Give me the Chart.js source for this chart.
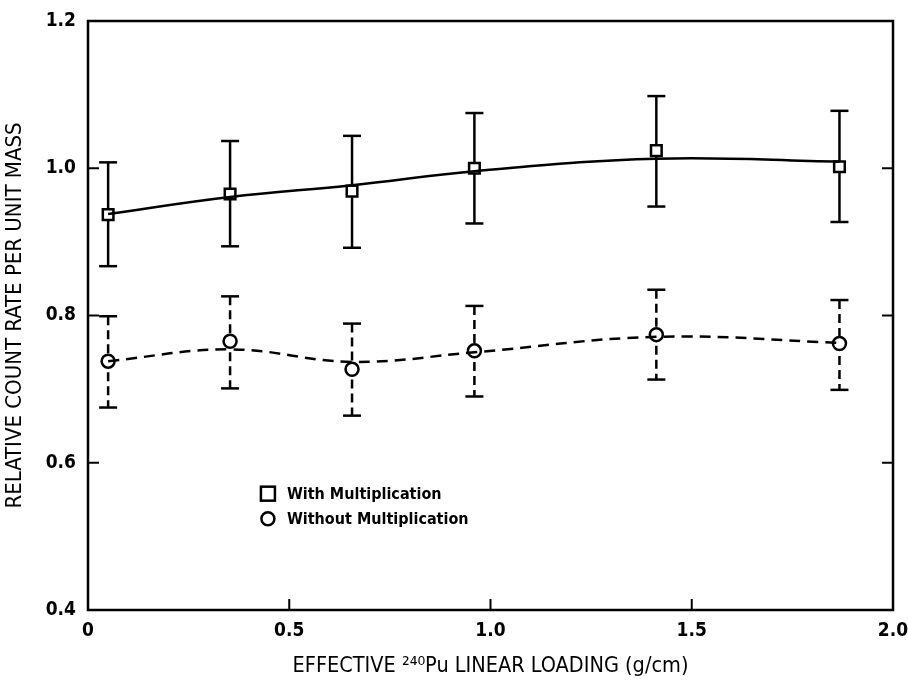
<!DOCTYPE html>
<html>
<head>
<meta charset="utf-8">
<script src="https://cdn.jsdelivr.net/npm/chart.js@4.4.1/dist/chart.umd.min.js"></script>
<style>
  html, body { margin: 0; padding: 0; background: #ffffff; }
  #wrap { width: 908px; height: 686px; }
</style>
</head>
<body>
<div id="wrap"><canvas id="c" width="908" height="686"></canvas></div>
<script>
// ---- data ----
const loading = [0.05, 0.353, 0.656, 0.96, 1.412, 1.867];

const withMult     = [0.937, 0.965, 0.969, 1.000, 1.024, 1.002];
const withMultHi   = [1.008, 1.037, 1.044, 1.075, 1.098, 1.078];
const withMultLo   = [0.867, 0.894, 0.892, 0.925, 0.948, 0.927];
const withMultFit  = [0.938, 0.961, 0.977, 0.996, 1.013, 1.009];

const withoutMult    = [0.738, 0.765, 0.727, 0.752, 0.774, 0.762];
const withoutMultHi  = [0.799, 0.826, 0.789, 0.813, 0.835, 0.821];
const withoutMultLo  = [0.675, 0.701, 0.664, 0.690, 0.713, 0.699];
const withoutMultFit = [0.738, 0.754, 0.737, 0.750, 0.771, 0.763];

const xTicks = [0, 0.5, 1.0, 1.5, 2.0];
const yTicks = [0.4, 0.6, 0.8, 1.0, 1.2];
const legendLabels = ['With Multiplication', 'Without Multiplication'];
const xTitle = 'EFFECTIVE \u00B2\u2074\u2070Pu LINEAR LOADING (g/cm)';
const yTitle = 'RELATIVE COUNT RATE PER UNIT MASS';

const FONT = "'Liberation Sans Narrow', 'DejaVu Sans Condensed', 'Arial Narrow', sans-serif";

function pts(ys) { return loading.map((x, i) => ({ x: x, y: ys[i] })); }

// ---- plugin: frame, inward ticks, error bars, legend ----
const decor = {
  id: 'decor',
  beforeDatasetsDraw(chart) {
    const ctx = chart.ctx;
    const xs = chart.scales.x, ys = chart.scales.y;
    const a = chart.chartArea;
    ctx.save();
    ctx.strokeStyle = '#000';
    ctx.lineWidth = 2.5;
    ctx.strokeRect(a.left, a.top, a.right - a.left, a.bottom - a.top);
    ctx.lineWidth = 2;
    xTicks.forEach(v => {
      if (v === xTicks[0] || v === xTicks[xTicks.length - 1]) return;
      const px = xs.getPixelForValue(v);
      ctx.beginPath(); ctx.moveTo(px, a.bottom); ctx.lineTo(px, a.bottom - 11); ctx.stroke();
    });
    yTicks.forEach(v => {
      if (v === yTicks[0] || v === yTicks[yTicks.length - 1]) return;
      const py = ys.getPixelForValue(v);
      ctx.beginPath(); ctx.moveTo(a.left, py); ctx.lineTo(a.left + 11, py); ctx.stroke();
      ctx.beginPath(); ctx.moveTo(a.right, py); ctx.lineTo(a.right - 11, py); ctx.stroke();
    });
    // error bars
    function bars(hi, lo, dash) {
      loading.forEach((x, i) => {
        const px = xs.getPixelForValue(x);
        const pt = ys.getPixelForValue(hi[i]);
        const pb = ys.getPixelForValue(lo[i]);
        ctx.lineWidth = 2.5;
        ctx.setLineDash(dash);
        ctx.beginPath(); ctx.moveTo(px, pt); ctx.lineTo(px, pb); ctx.stroke();
        ctx.setLineDash([]);
        ctx.beginPath(); ctx.moveTo(px - 9, pt); ctx.lineTo(px + 9, pt); ctx.stroke();
        ctx.beginPath(); ctx.moveTo(px - 9, pb); ctx.lineTo(px + 9, pb); ctx.stroke();
      });
    }
    bars(withMultHi, withMultLo, []);
    bars(withoutMultHi, withoutMultLo, [9, 5]);
    ctx.restore();
  },
  afterDatasetsDraw(chart) {
    const ctx = chart.ctx;
    const xs = chart.scales.x, ys = chart.scales.y;
    ctx.save();
    // legend placed inside the plot (anchored to data coordinates)
    const lx = xs.getPixelForValue(0.447);
    const ly1 = ys.getPixelForValue(0.558);
    const ly2 = ys.getPixelForValue(0.524);
    ctx.strokeStyle = '#000';
    ctx.fillStyle = '#fff';
    ctx.lineWidth = 2.5;
    ctx.fillRect(lx - 7, ly1 - 7, 14, 14);
    ctx.strokeRect(lx - 7, ly1 - 7, 14, 14);
    ctx.beginPath(); ctx.arc(lx, ly2, 6.5, 0, Math.PI * 2); ctx.fill(); ctx.stroke();
    ctx.fillStyle = '#000';
    ctx.font = "bold 16px " + FONT;
    ctx.textBaseline = 'middle';
    ctx.textAlign = 'left';
    ctx.fillText(legendLabels[0], lx + 19, ly1 + 1);
    ctx.fillText(legendLabels[1], lx + 19, ly2 + 1);
    ctx.restore();
  }
};

new Chart(document.getElementById('c'), {
  type: 'scatter',
  data: {
    datasets: [
      {
        label: 'fitWith', data: pts(withMultFit), showLine: true,
        borderColor: '#000', borderWidth: 2.5, tension: 0.4,
        pointRadius: 0, fill: false
      },
      {
        label: 'fitWithout', data: pts(withoutMultFit), showLine: true,
        borderColor: '#000', borderWidth: 2.5, tension: 0.4, borderDash: [11, 7],
        pointRadius: 0, fill: false
      },
      {
        label: legendLabels[0], data: pts(withMult), showLine: false,
        pointStyle: 'rect', pointRadius: 7.5, pointBorderWidth: 2.5,
        pointBackgroundColor: '#fff', pointBorderColor: '#000'
      },
      {
        label: legendLabels[1], data: pts(withoutMult), showLine: false,
        pointStyle: 'circle', pointRadius: 6.5, pointBorderWidth: 2.5,
        pointBackgroundColor: '#fff', pointBorderColor: '#000'
      }
    ]
  },
  options: {
    responsive: false,
    animation: false,
    events: [],
    layout: { padding: { top: 21, right: 15, left: 0, bottom: 0 } },
    plugins: { legend: { display: false }, tooltip: { enabled: false } },
    scales: {
      x: {
        type: 'linear', min: 0, max: 2,
        afterFit(s) { s.height = 76; s.paddingLeft = 0; s.paddingRight = 0; },
        afterBuildTicks(s) { s.ticks = xTicks.map(v => ({ value: v })); },
        grid: { display: false, drawTicks: false },
        border: { display: false },
        ticks: {
          padding: 10, color: '#000', maxRotation: 0,
          font: { family: FONT, size: 19, weight: 'bold' },
          callback: v => (v === 0 ? '0' : v.toFixed(1))
        },
        title: {
          display: true, text: xTitle, color: '#000',
          font: { family: FONT, size: 21.5, weight: 'normal' },
          padding: { top: 0, bottom: 7 }
        }
      },
      y: {
        type: 'linear', min: 0.4, max: 1.2,
        afterFit(s) { s.width = 88; s.paddingTop = 0; s.paddingBottom = 0; },
        afterBuildTicks(s) { s.ticks = yTicks.map(v => ({ value: v })); },
        grid: { display: false, drawTicks: false },
        border: { display: false },
        ticks: {
          padding: 12, color: '#000',
          font: { family: FONT, size: 19, weight: 'bold' },
          callback: v => v.toFixed(1)
        },
        title: {
          display: true, text: yTitle, color: '#000',
          font: { family: FONT, size: 22, weight: 'normal' },
          padding: { top: 2, bottom: 0 }
        }
      }
    }
  },
  plugins: [decor]
});
</script>
</body>
</html>
